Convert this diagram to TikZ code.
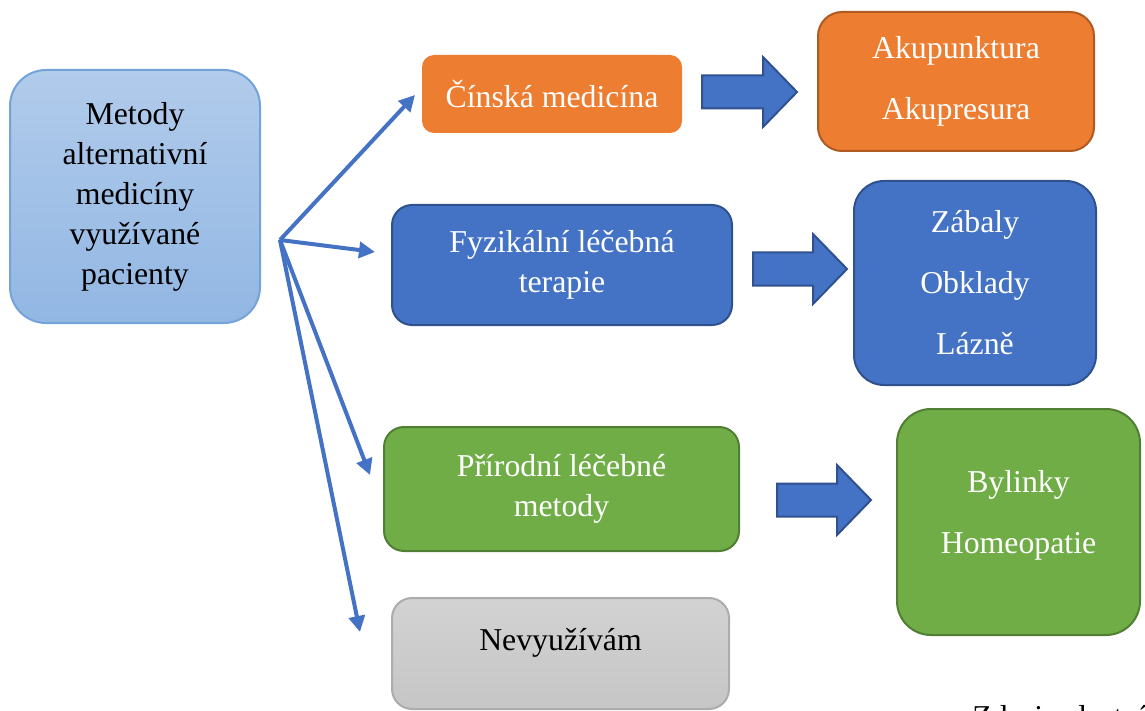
\documentclass[tikz,border=0pt]{standalone}
\usepackage{fontspec}
\setmainfont{Liberation Serif}
\usetikzlibrary{arrows.meta}

\definecolor{oranzova}{HTML}{ED7D31}
\definecolor{oranzovaokraj}{HTML}{AE5A21}
\definecolor{modra}{HTML}{4472C4}
\definecolor{modraokraj}{HTML}{2F528F}
\definecolor{zelena}{HTML}{70AD47}
\definecolor{zelenaokraj}{HTML}{507E32}
\definecolor{svetlemodrahore}{HTML}{B1CBEB}
\definecolor{svetlemodradole}{HTML}{92B7E3}
\definecolor{svetlemodraokraj}{HTML}{74A3DA}

\begin{document}
\begin{tikzpicture}[x=0.5pt,y=-0.5pt,
  every node/.style={font=\fontsize{15.9}{20}\selectfont, align=center},
  krabice/.style={rectangle, rounded corners=#1, line width=1pt, inner sep=0pt},
  hlavni/.style={krabice=18pt, draw=svetlemodraokraj, top color=svetlemodrahore, bottom color=svetlemodradole, minimum width=125pt, minimum height=126.5pt},
  oranz/.style={krabice=#1, fill=oranzova, draw=oranzovaokraj, text=white},
  modr/.style={krabice=#1, fill=modra, draw=modraokraj, text=white},
  zelen/.style={krabice=#1, fill=zelena, draw=zelenaokraj, text=white},
  seda/.style={krabice=10pt, draw=gray!65, top color=gray!35, bottom color=gray!45, minimum width=168.5pt, minimum height=55.5pt},
  sipka/.style={modra, line width=2pt, -{Stealth[length=8pt,width=8pt,inset=0pt]}},
  blok/.style={fill=modra, draw=modraokraj, line width=1pt, line join=miter}]
\useasboundingbox (0,0) rectangle (1145,711);

\node[hlavni] (metody) at (135,196.5) {Metody\\alternativní\\medicíny\\využívané\\pacienty};

\node[oranz=6pt, draw=none, minimum width=130pt, minimum height=39pt] (cinska) at (552,94) {Čínská medicína};
\node[modr=10pt, minimum width=170pt, minimum height=60pt] (fyzikalni) at (562,265) {Fyzikální léčebná\\terapie};
\node[zelen=10pt, minimum width=177.5pt, minimum height=62pt] (prirodni) at (561.5,489) {Přírodní léčebné\\metody};
\node[seda, text depth=14pt] (nevyuzivam) at (560.5,653.5) {Nevyužívám};

\node[oranz=12pt, minimum width=138pt, minimum height=69.5pt] (akupunktura) at (956,81.5) {Akupunktura\\[10.5pt]Akupresura};
\node[modr=15pt, minimum width=121pt, minimum height=102pt] (zabaly) at (975,283) {Zábaly\\[10.5pt]Obklady\\[10.5pt]Lázně};
\node[zelen=17pt, minimum width=121.5pt, minimum height=113pt, text depth=10pt] (bylinky) at (1018.5,522) {Bylinky\\[10.5pt]Homeopatie};

% sipky od hlavni krabice
\coordinate (stred) at (280,240);
\coordinate (k1) at (415,95);
\coordinate (k2) at (375,252);
\coordinate (k3) at (370,475);
\coordinate (k4) at (360,632);
\foreach \k in {k1,k2,k3,k4}
  \draw[sipka] (stred)--(\k);

% blokove sipky
\draw[blok] (702,92) ++(0,-16.5) -- ++(61,0) -- ++(0,-18.5) -- ++(34,35) -- ++(-34,35) -- ++(0,-18.5) -- ++(-61,0) -- cycle;
\draw[blok] (753,269) ++(0,-16.5) -- ++(60,0) -- ++(0,-18.5) -- ++(34,35) -- ++(-34,35) -- ++(0,-18.5) -- ++(-60,0) -- cycle;
\draw[blok] (777,500) ++(0,-16.5) -- ++(60,0) -- ++(0,-18.5) -- ++(34,35) -- ++(-34,35) -- ++(0,-18.5) -- ++(-60,0) -- cycle;

\node[anchor=base west, inner sep=0pt] (zdroj) at (972,727) {Zdroj: vlastní};
\end{tikzpicture}
\end{document}
